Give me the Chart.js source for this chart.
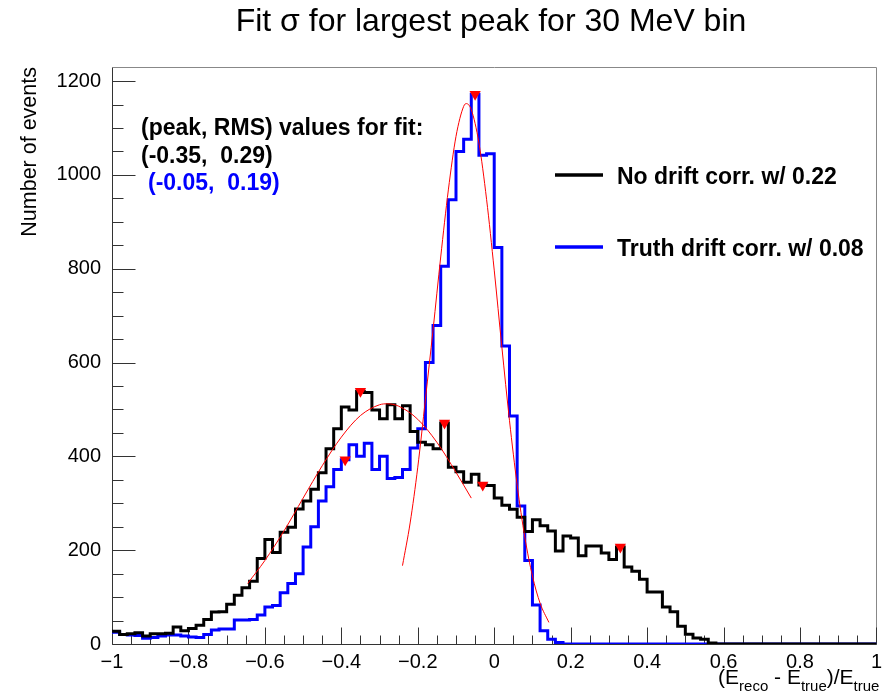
<!DOCTYPE html>
<html>
<head>
<meta charset="utf-8">
<title>Fit sigma for largest peak for 30 MeV bin</title>
<script src="https://cdn.jsdelivr.net/npm/chart.js@4.4.1/dist/chart.umd.min.js"></script>
<style>
  html, body { margin: 0; padding: 0; background: #fff; }
  #wrap { position: relative; width: 888px; height: 699px; }
</style>
</head>
<body>
<div id="wrap"><canvas id="fitChart" width="888" height="699"></canvas></div>
<script>
// binning of both histograms: 100 bins over [-1, 1]
const xLow = -1;
const binWidth = 0.02;

// no drift correction (black)
const noDriftCounts = [
  27, 20, 22, 24, 17, 22, 22, 23, 36, 28,
  33, 40, 52, 68, 69, 85, 104, 120, 134, 182,
  223, 195, 238, 249, 288, 305, 330, 365, 416, 459,
  505, 499, 539, 536, 499, 480, 510, 480, 508, 453,
  430, 425, 416, 471, 377, 367, 345, 362, 339, 338,
  311, 296, 287, 270, 240, 265, 252, 241, 198, 230,
  226, 188, 209, 209, 194, 180, 207, 164, 155, 138,
  111, 111, 79, 69, 38, 21, 13, 10, 2, 0,
  0, 0, 0, 0, 0, 0, 0, 0, 0, 0,
  0, 0, 0, 0, 0, 0, 0, 0, 0, 0
];

// truth drift correction (blue)
const truthDriftCounts = [
  25, 20, 19, 18, 12, 14, 17, 19, 19, 17,
  15, 14, 20, 30, 32, 32, 51, 51, 52, 62,
  79, 82, 109, 129, 150, 207, 250, 305, 335, 372,
  393, 425, 400, 428, 372, 400, 353, 355, 372, 418,
  459, 600, 679, 805, 947, 1050, 1076, 1172, 1042, 1045,
  845, 635, 486, 294, 178, 83, 28, 10, 3, 0,
  0, 0, 0, 0, 0, 0, 0, 0, 0, 0,
  0, 0, 0, 0, 0, 0, 0, 0, 0, 0,
  0, 0, 0, 0, 0, 0, 0, 0, 0, 0,
  0, 0, 0, 0, 0, 0, 0, 0, 0, 0
];

// gaussian fit curves, sampled
const noDriftFitX = [-0.645, -0.6, -0.55, -0.5, -0.45, -0.4, -0.35, -0.3, -0.28, -0.25, -0.2, -0.15, -0.1, -0.06];
const noDriftFitY = [129, 178, 241, 311, 380, 441, 487, 510, 512, 507, 479, 430, 366, 311];
const truthFitX = [-0.24, -0.22, -0.2, -0.18, -0.16, -0.14, -0.12, -0.1, -0.08, -0.073, -0.06, -0.04, -0.02, 0, 0.02, 0.04, 0.06, 0.08, 0.1, 0.12, 0.143];
const truthFitY = [167, 258, 377, 522, 670, 825, 968, 1082, 1146, 1152, 1139, 1068, 948, 797, 633, 476, 339, 228, 145, 87, 46];

// peaks found by the peak search
const peakX = [-0.35, -0.13, -0.03, 0.33, -0.39, -0.05];
const peakY = [539, 471, 339, 207, 393, 1172];

// axis ticks
const xTicks = [-1, -0.8, -0.6, -0.4, -0.2, 0, 0.2, 0.4, 0.6, 0.8, 1];
const xTickLabels = ['\u22121', '\u22120.8', '\u22120.6', '\u22120.4', '\u22120.2', '0', '0.2', '0.4', '0.6', '0.8', '1'];
const yTicks = [0, 200, 400, 600, 800, 1000, 1200];
const yTickLabels = ['0', '200', '400', '600', '800', '1000', '1200'];
const yMax = 1230;

const FONT = "'Liberation Sans', Arial, Helvetica, sans-serif";

function histPoints(counts) {
  const pts = counts.map((c, i) => ({ x: xLow + i * binWidth, y: c }));
  pts.push({ x: xLow + counts.length * binWidth, y: counts[counts.length - 1] });
  return pts;
}

function zipPoints(xs, ys) {
  return xs.map((x, i) => ({ x: x, y: ys[i] }));
}

// ROOT style frame with inner tick marks
const rootAxes = {
  id: 'rootAxes',
  beforeDatasetsDraw(chart) {
    const { ctx, chartArea: a, scales } = chart;
    const xs = scales.x, ys = scales.y;
    const L = Math.round(a.left) + 0.5, R = Math.round(a.right) + 0.5;
    const T = Math.round(a.top) + 0.5, B = Math.round(a.bottom) + 0.5;
    ctx.save();
    ctx.lineWidth = 1;

    // top and right border
    ctx.strokeStyle = '#888';
    ctx.beginPath();
    ctx.moveTo(L, T); ctx.lineTo(R, T); ctx.lineTo(R, B);
    ctx.stroke();

    ctx.strokeStyle = '#333';
    ctx.beginPath();
    ctx.moveTo(L, T); ctx.lineTo(L, B); ctx.lineTo(R, B);

    // x ticks: major from the scale, 4 minor divisions
    const xMajor = xs.ticks.map(t => t.value);
    xMajor.forEach(v => {
      const px = Math.round(xs.getPixelForValue(v)) + 0.5;
      ctx.moveTo(px, B); ctx.lineTo(px, B - 17);
    });
    for (let i = 0; i < xMajor.length - 1; i++) {
      const step = (xMajor[i + 1] - xMajor[i]) / 4;
      for (let k = 1; k < 4; k++) {
        const px = Math.round(xs.getPixelForValue(xMajor[i] + k * step)) + 0.5;
        ctx.moveTo(px, B); ctx.lineTo(px, B - 9);
      }
    }

    // y ticks
    const yMajor = ys.ticks.map(t => t.value);
    const yStep = yMajor[1] - yMajor[0];
    yMajor.forEach(v => {
      const py = Math.round(ys.getPixelForValue(v)) + 0.5;
      ctx.moveTo(L, py); ctx.lineTo(L + 23, py);
    });
    for (let v = yStep / 4; v < ys.max; v += yStep / 4) {
      if (Math.abs(v % yStep) < 1e-6) continue;
      const py = Math.round(ys.getPixelForValue(v)) + 0.5;
      ctx.moveTo(L, py); ctx.lineTo(L + 11, py);
    }
    ctx.stroke();
    ctx.restore();
  }
};

// title, fit summary, legend and x axis title
const rootText = {
  id: 'rootText',
  afterDraw(chart) {
    const ctx = chart.ctx;
    const area = chart.chartArea;
    ctx.save();
    ctx.textBaseline = 'alphabetic';

    ctx.fillStyle = '#000';
    ctx.font = '32px ' + FONT;
    ctx.textAlign = 'center';
    ctx.fillText('Fit \u03c3 for largest peak for 30 MeV bin', 491, 31);

    ctx.textAlign = 'left';
    ctx.font = 'bold 23px ' + FONT;
    ctx.fillText('(peak, RMS) values for fit:', 141, 135);
    ctx.fillText('(-0.35,  0.29)', 141, 163);
    ctx.fillStyle = '#0000ff';
    ctx.fillText('(-0.05,  0.19)', 148, 190);

    // legend
    const legend = [
      { color: '#000000', text: 'No drift corr. w/ 0.22', y: 175 },
      { color: '#0000ff', text: 'Truth drift corr. w/ 0.08', y: 247 }
    ];
    legend.forEach(e => {
      ctx.strokeStyle = e.color;
      ctx.lineWidth = 3.5;
      ctx.beginPath();
      ctx.moveTo(555, e.y); ctx.lineTo(603, e.y);
      ctx.stroke();
      ctx.fillStyle = '#000';
      ctx.fillText(e.text, 617, e.y + 8.5);
    });

    // x axis title with subscripts
    const parts = [
      ['(E', 21, 0], ['reco', 15, 7], [' - E', 21, 0], ['true', 15, 7], [')/E', 21, 0], ['true', 15, 7]
    ];
    let total = 0;
    parts.forEach(p => { ctx.font = p[1] + 'px ' + FONT; total += ctx.measureText(p[0]).width; });
    let x = area.right + 3 - total;
    const base = 684;
    ctx.fillStyle = '#000';
    parts.forEach(p => {
      ctx.font = p[1] + 'px ' + FONT;
      ctx.fillText(p[0], x, base + p[2]);
      x += ctx.measureText(p[0]).width;
    });
    ctx.restore();
  }
};

new Chart(document.getElementById('fitChart'), {
  type: 'line',
  data: {
    datasets: [
      {
        label: 'peaks',
        data: zipPoints(peakX, peakY),
        showLine: false,
        pointStyle: 'triangle',
        pointRotation: 180,
        pointRadius: 6.5,
        pointBackgroundColor: '#ff0000',
        pointBorderWidth: 0
      },
      {
        label: 'no drift fit',
        data: zipPoints(noDriftFitX, noDriftFitY),
        borderColor: '#ff0000',
        borderWidth: 1,
        pointRadius: 0,
        cubicInterpolationMode: 'monotone'
      },
      {
        label: 'truth drift fit',
        data: zipPoints(truthFitX, truthFitY),
        borderColor: '#ff0000',
        borderWidth: 1,
        pointRadius: 0,
        cubicInterpolationMode: 'monotone'
      },
      {
        label: 'No drift corr.',
        data: histPoints(noDriftCounts),
        borderColor: '#000000',
        borderWidth: 3,
        pointRadius: 0,
        stepped: 'before'
      },
      {
        label: 'Truth drift corr.',
        data: histPoints(truthDriftCounts),
        borderColor: '#0000ff',
        borderWidth: 3,
        pointRadius: 0,
        stepped: 'before'
      }
    ]
  },
  options: {
    responsive: false,
    animation: false,
    devicePixelRatio: 1,
    layout: { padding: { top: 67, right: 11, left: 0, bottom: 0 } },
    plugins: {
      legend: { display: false },
      title: { display: false },
      tooltip: { enabled: false }
    },
    scales: {
      x: {
        type: 'linear',
        min: -1,
        max: 1,
        grid: { display: false, drawTicks: false },
        border: { display: false },
        afterBuildTicks(s) { s.ticks = xTicks.map(v => ({ value: v })); },
        ticks: {
          autoSkip: false,
          maxRotation: 0,
          padding: 6,
          color: '#000',
          font: { family: FONT, size: 20 },
          callback: (v, i) => xTickLabels[i]
        },
        afterFit(s) { s.height = 55; }
      },
      y: {
        type: 'linear',
        min: 0,
        max: yMax,
        grid: { display: false, drawTicks: false },
        border: { display: false },
        afterBuildTicks(s) { s.ticks = yTicks.map(v => ({ value: v })); },
        ticks: {
          autoSkip: false,
          padding: 11,
          color: '#000',
          font: { family: FONT, size: 20 },
          callback: (v, i) => yTickLabels[i]
        },
        title: {
          display: true,
          text: 'Number of events',
          align: 'end',
          color: '#000',
          font: { family: FONT, size: 21.5 },
          padding: { top: 17, bottom: 0 }
        },
        afterFit(s) { s.width = 112; }
      }
    }
  },
  plugins: [rootAxes, rootText]
});
</script>
</body>
</html>
